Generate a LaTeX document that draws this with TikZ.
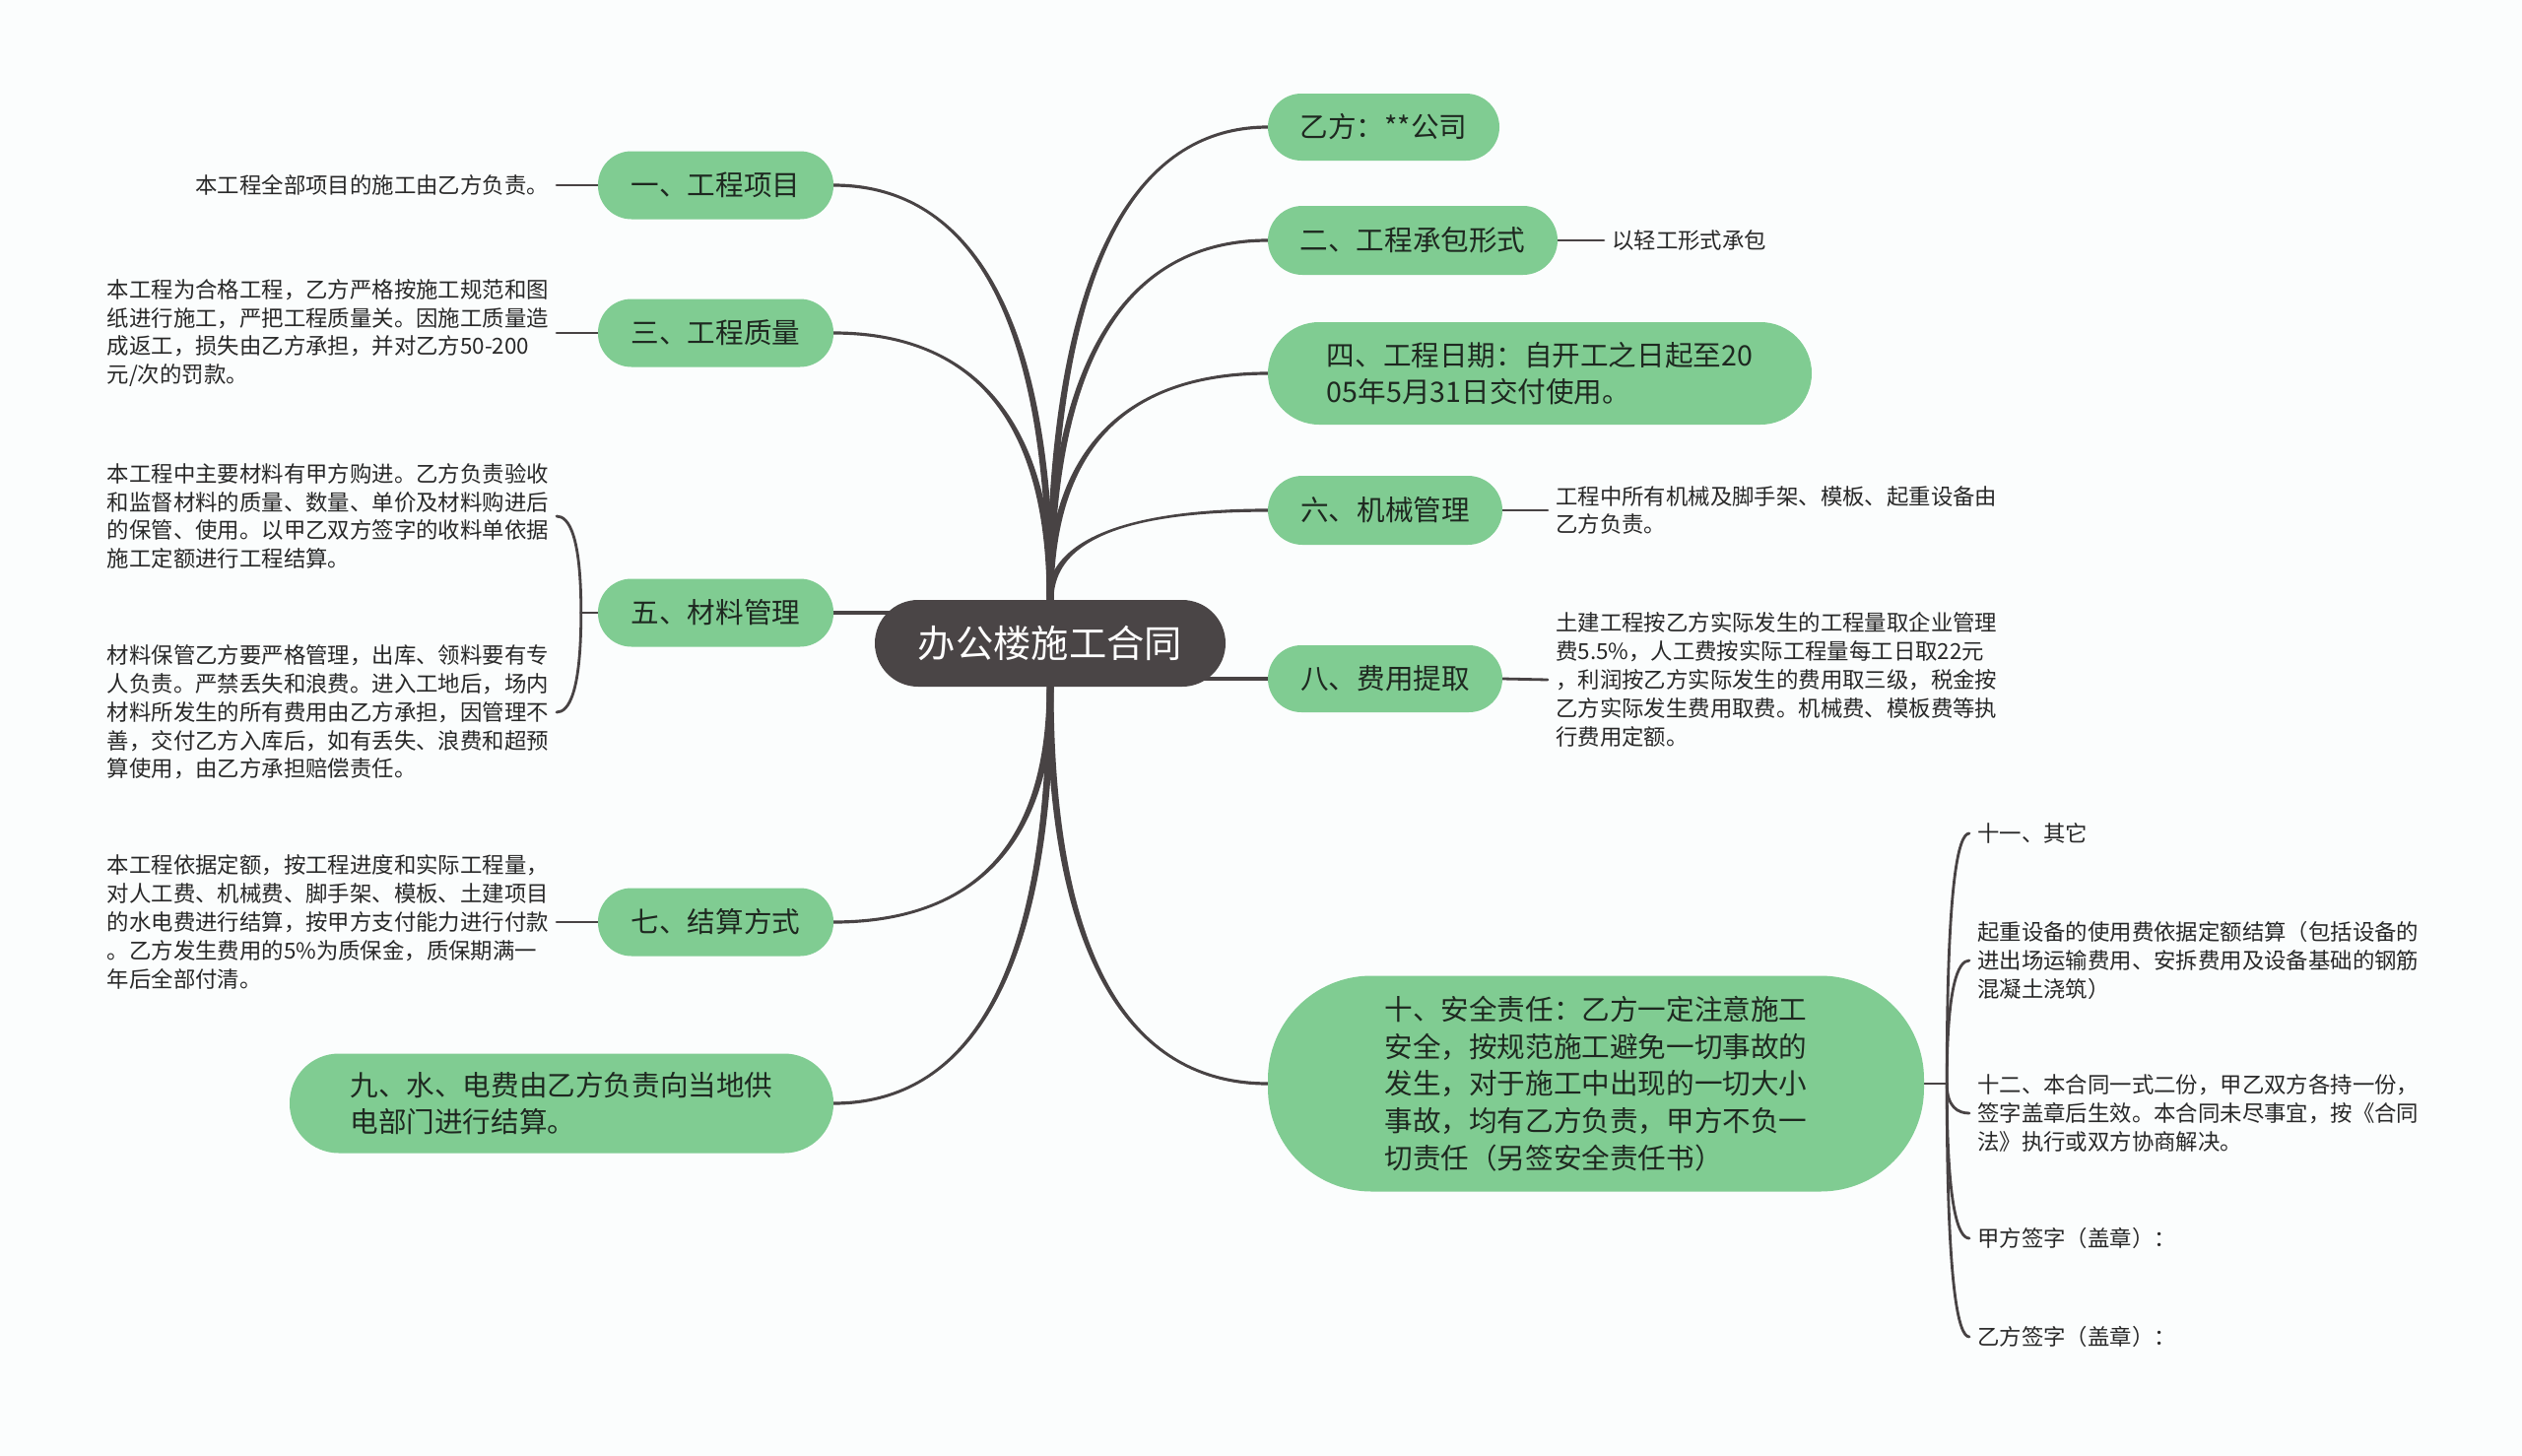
\documentclass[tikz,border=0pt]{standalone}
\usepackage{fontspec}
\setmainfont{Noto Sans CJK SC}
\usetikzlibrary{calc}
\definecolor{bgc}{RGB}{251,253,253}
\definecolor{linec}{RGB}{72,67,68}
\definecolor{darkc}{RGB}{74,69,70}
\definecolor{greenc}{RGB}{128,204,146}
\definecolor{topictext}{RGB}{30,40,32}
\definecolor{leaftext}{RGB}{40,40,40}
\pgfdeclarelayer{back}
\pgfdeclarelayer{bg}
\pgfsetlayers{back,bg,main}
% tapered branch: #1 from, #2 to, #3 side sign
\newcommand\mmcurve[3]{%
  \fill[linec] let \p1=(#1), \p2=(#2) in
  ({\x1-3.5pt},\y1) .. controls ({\x1-3.5pt},{\y1+0.8*(\y2-\y1)}) and ({0.5*(\x1+\x2)},{\y2+(#3)*1.6pt}) .. (\x2,{\y2+(#3)*1.6pt})
  -- (\x2,{\y2-(#3)*1.6pt}) .. controls ({0.5*(\x1+\x2)},{\y2-(#3)*1.6pt}) and ({\x1+3.5pt},{\y1+0.8*(\y2-\y1)}) .. ({\x1+3.5pt},\y1) -- cycle;}
\newcommand\mmbrace[2]{%
  \draw[link] let \p1=(#1), \p2=(#2) in
  (\p1) .. controls (\x1,{\y1+0.8*(\y2-\y1)}) and ({0.5*(\x1+\x2)},\y2) .. (\p2);}
\begin{document}
\begin{tikzpicture}[x=1pt,y=-1pt,
  centernode/.style={fill=darkc,text=white,rounded corners=44pt,minimum width=356pt,minimum height=88pt,inner sep=0pt,font=\fontsize{38.3}{46}\selectfont},
  topic/.style={fill=greenc,text=topictext,inner sep=0pt,align=left,font=\fontsize{28.6}{37.6}\selectfont},
  leaf/.style={text=leaftext,inner xsep=8pt,inner ysep=0pt,align=left,font=\fontsize{22.4}{28.8}\selectfont},
  link/.style={draw=linec,line width=2.8pt,line cap=round}]
\useasboundingbox (0,0) rectangle (2560,1478);
\begin{pgfonlayer}{back}
\fill[bgc] (0,0) rectangle (2560,1478);
\end{pgfonlayer}

% center
\node[centernode] (c) at (1066,653) {办公楼施工合同};

% left topics
\node[topic,minimum width=239pt,minimum height=69pt,rounded corners=34pt] (n1) at (726.5,188) {一、工程项目};
\node[topic,minimum width=239pt,minimum height=69pt,rounded corners=34pt] (n3) at (726.5,338) {三、工程质量};
\node[topic,minimum width=239pt,minimum height=69pt,rounded corners=34pt] (n5) at (726.5,622) {五、材料管理};
\node[topic,minimum width=239pt,minimum height=69pt,rounded corners=34pt] (n7) at (726.5,936) {七、结算方式};
\node[topic,minimum width=552pt,minimum height=101pt,rounded corners=50pt] (n9) at (570,1120) {九、水、电费由乙方负责向当地供\\电部门进行结算。};

% right topics
\node[topic,minimum width=235pt,minimum height=68pt,rounded corners=34pt] (r0) at (1404.5,129) {乙方：**公司};
\node[topic,minimum width=294pt,minimum height=70pt,rounded corners=35pt] (n2) at (1434,244) {二、工程承包形式};
\node[topic,minimum width=552pt,minimum height=104pt,rounded corners=52pt] (n4) at (1563,379) {四、工程日期：自开工之日起至20\\05年5月31日交付使用。};
\node[topic,minimum width=238pt,minimum height=70pt,rounded corners=35pt] (n6) at (1406,518) {六、机械管理};
\node[topic,minimum width=238pt,minimum height=68pt,rounded corners=34pt] (n8) at (1406,689) {八、费用提取};
\node[topic,minimum width=666pt,minimum height=219pt,rounded corners=105pt] (n10) at (1620,1100) {十、安全责任：乙方一定注意施工\\安全，按规范施工避免一切事故的\\发生，对于施工中出现的一切大小\\事故，均有乙方负责，甲方不负一\\切责任（另签安全责任书）};

% left leaves
\node[leaf,anchor=east] (l1) at (565,188) {本工程全部项目的施工由乙方负责。};
\node[leaf,anchor=east] (l3) at (565,338) {本工程为合格工程，乙方严格按施工规范和图\\纸进行施工，严把工程质量关。因施工质量造\\成返工，损失由乙方承担，并对乙方50-200\\元/次的罚款。};
\node[leaf,anchor=east] (l5a) at (565,524) {本工程中主要材料有甲方购进。乙方负责验收\\和监督材料的质量、数量、单价及材料购进后\\的保管、使用。以甲乙双方签字的收料单依据\\施工定额进行工程结算。};
\node[leaf,anchor=east] (l5b) at (565,723) {材料保管乙方要严格管理，出库、领料要有专\\人负责。严禁丢失和浪费。进入工地后，场内\\材料所发生的所有费用由乙方承担，因管理不\\善，交付乙方入库后，如有丢失、浪费和超预\\算使用，由乙方承担赔偿责任。};
\node[leaf,anchor=east] (l7) at (565,936) {本工程依据定额，按工程进度和实际工程量，\\对人工费、机械费、脚手架、模板、土建项目\\的水电费进行结算，按甲方支付能力进行付款\\。乙方发生费用的5\%为质保金，质保期满一\\年后全部付清。};

% right leaves
\node[leaf,anchor=west] (l2) at (1628,244) {以轻工形式承包};
\node[leaf,anchor=west] (l6) at (1571,518) {工程中所有机械及脚手架、模板、起重设备由\\乙方负责。};
\node[leaf,anchor=west] (l8) at (1571,690) {土建工程按乙方实际发生的工程量取企业管理\\费5.5\%，人工费按实际工程量每工日取22元\\，利润按乙方实际发生的费用取三级，税金按\\乙方实际发生费用取费。机械费、模板费等执\\行费用定额。};
\node[leaf,anchor=west] (l10a) at (1999,846) {十一、其它};
\node[leaf,anchor=west] (l10b) at (1999,975) {起重设备的使用费依据定额结算（包括设备的\\进出场运输费用、安拆费用及设备基础的钢筋\\混凝土浇筑）};
\node[leaf,anchor=west] (l10c) at (1999,1130) {十二、本合同一式二份，甲乙双方各持一份，\\签字盖章后生效。本合同未尽事宜，按《合同\\法》执行或双方协商解决。};
\node[leaf,anchor=west] (l10d) at (1999,1257) {甲方签字（盖章）：};
\node[leaf,anchor=west] (l10e) at (1999,1357) {乙方签字（盖章）：};

\coordinate (j5) at ($(n5.west)+(-17,0)$);
\coordinate (j10) at ($(n10.east)+(23,0)$);

\begin{pgfonlayer}{bg}
% main branches
\mmcurve{c.north}{n1.east}{-1}
\mmcurve{c.north}{n3.east}{-1}
\mmcurve{c.north}{r0.west}{1}
\mmcurve{c.north}{n2.west}{1}
\mmcurve{c.north}{n4.west}{1}
\mmcurve{c.north}{n6.west}{1}
\mmcurve{c.south}{n7.east}{1}
\mmcurve{c.south}{n9.east}{1}
\mmcurve{c.south}{n10.west}{-1}
\draw[link,line width=3.2pt] (n5.east) -- (n5.east -| c.center);
\draw[link,line width=3.2pt] (c.center |- n8.west) -- (n8.west);
% leaf connectors
\draw[link] (l1.east) -- (n1.west);
\draw[link] (l3.east) -- (n3.west);
\draw[link] (l7.east) -- (n7.west);
\draw[link] (n2.east) -- (l2.west);
\draw[link] (n6.east) -- (l6.west);
\draw[link] (n8.east) -- (l8.west);
\draw[link] (n5.west) -- (j5);
\mmbrace{j5}{l5a.east}
\mmbrace{j5}{l5b.east}
\draw[link] (n10.east) -- (j10);
\mmbrace{j10}{l10a.west}
\mmbrace{j10}{l10b.west}
\mmbrace{j10}{l10c.west}
\mmbrace{j10}{l10d.west}
\mmbrace{j10}{l10e.west}
\end{pgfonlayer}
\end{tikzpicture}
\end{document}
